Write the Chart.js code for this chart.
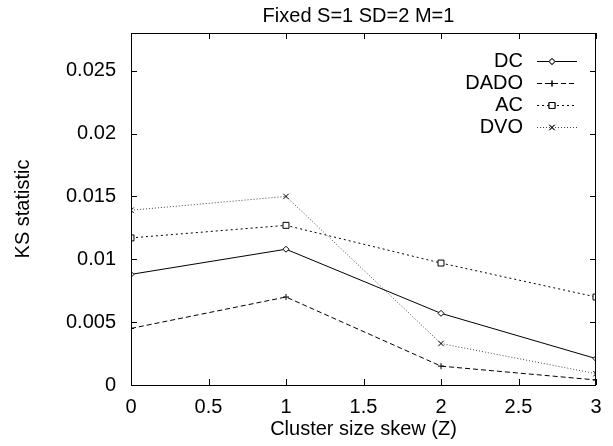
<!DOCTYPE html>
<html>
<head>
<meta charset="utf-8">
<script src="https://cdn.jsdelivr.net/npm/chart.js@4"></script>
<style>
  body { margin: 0; background: #fff; }
  #c { display: block; }
</style>
</head>
<body>
<canvas id="c" width="613" height="446"></canvas>
<script>
var xValues = [0, 1, 2, 3];
var dcValues = [0.0088, 0.0108, 0.0057, 0.0021];
var dadoValues = [0.0045, 0.0070, 0.0015, 0.0004];
var acValues = [0.0117, 0.0127, 0.0097, 0.0070];
var dvoValues = [0.0139, 0.0150, 0.0033, 0.0009];

var xTicks = [0, 0.5, 1, 1.5, 2, 2.5, 3];
var xTickLabels = ['0', '0.5', '1', '1.5', '2', '2.5', '3'];
var yTicks = [0, 0.005, 0.01, 0.015, 0.02, 0.025];
var yTickLabels = ['0', '0.005', '0.01', '0.015', '0.02', '0.025'];

var FONT = '"Liberation Sans", Arial, sans-serif';

function pts(vals) {
    return xValues.map(function (x, i) { return { x: x, y: vals[i] }; });
}

// frame, inward ticks, title and legend drawn like gnuplot does
var gnuplotLook = {
    id: 'gnuplotLook',
    afterDraw: function (chart) {
        var ctx = chart.ctx, a = chart.chartArea;
        var xs = chart.scales.x, ys = chart.scales.y;
        ctx.save();
        ctx.strokeStyle = '#000';
        ctx.lineWidth = 1;
        ctx.setLineDash([]);
        ctx.strokeRect(a.left + 0.5, a.top + 0.5, a.right - a.left - 1, a.bottom - a.top);
        ctx.beginPath();
        xTicks.forEach(function (v) {
            var px = Math.round(xs.getPixelForValue(v)) + 0.5;
            ctx.moveTo(px, a.bottom); ctx.lineTo(px, a.bottom - 6);
            ctx.moveTo(px, a.top); ctx.lineTo(px, a.top + 6);
        });
        yTicks.forEach(function (v) {
            var py = Math.round(ys.getPixelForValue(v)) + 0.5;
            ctx.moveTo(a.left, py); ctx.lineTo(a.left + 6, py);
            ctx.moveTo(a.right, py); ctx.lineTo(a.right - 6, py);
        });
        ctx.stroke();

        // title over the plot area
        ctx.fillStyle = '#000';
        ctx.font = '20px ' + FONT;
        ctx.textAlign = 'center';
        ctx.textBaseline = 'middle';
        ctx.fillText('Fixed S=1 SD=2 M=1', (a.left + a.right) / 2 - 5, 16);

        // legend
        ctx.textAlign = 'right';
        chart.data.datasets.forEach(function (ds, i) {
            var y = 61 + i * 22;
            ctx.fillStyle = '#000';
            ctx.fillText(ds.label, 523, y);
            ctx.strokeStyle = ds.borderColor;
            ctx.lineWidth = ds.borderWidth;
            ctx.setLineDash(ds.borderDash || []);
            ctx.beginPath();
            ctx.moveTo(537, y + 0.5); ctx.lineTo(577, y + 0.5);
            ctx.stroke();
            ctx.setLineDash([]);
            Chart.helpers.drawPoint(ctx, {
                pointStyle: ds.pointStyle, radius: ds.pointRadius, borderWidth: 1
            }, 552, y + 0.5);
            ctx.fillStyle = ds.pointBackgroundColor;
            ctx.strokeStyle = ds.pointBorderColor;
            ctx.lineWidth = 1;
            Chart.helpers.drawPoint(ctx, {
                pointStyle: ds.pointStyle, radius: ds.pointRadius, borderWidth: 1
            }, 552, y + 0.5);
        });
        ctx.restore();
    }
};

var ctx = document.getElementById('c').getContext('2d');
var chart = new Chart(ctx, {
    type: 'line',
    data: {
        datasets: [{
            label: 'DC',
            data: pts(dcValues),
            borderColor: '#000',
            borderWidth: 1,
            pointStyle: 'rectRot',
            pointRadius: 3,
            pointBackgroundColor: '#fff',
            pointBorderColor: '#000'
        },
        {
            label: 'DADO',
            data: pts(dadoValues),
            borderColor: '#000',
            borderWidth: 1,
            borderDash: [5, 3],
            pointStyle: 'cross',
            pointRadius: 3,
            pointBackgroundColor: '#fff',
            pointBorderColor: '#000'
        },
        {
            label: 'AC',
            data: pts(acValues),
            borderColor: '#000',
            borderWidth: 1,
            borderDash: [2, 3],
            pointStyle: 'rect',
            pointRadius: 4.2,
            pointBackgroundColor: '#fff',
            pointBorderColor: '#000'
        },
        {
            label: 'DVO',
            data: pts(dvoValues),
            borderColor: '#444',
            borderWidth: 1,
            borderDash: [1, 2],
            pointStyle: 'crossRot',
            pointRadius: 3.8,
            pointBackgroundColor: '#fff',
            pointBorderColor: '#000'
        }]
    },
    options: {
        responsive: false,
        animation: false,
        devicePixelRatio: 1,
        layout: { padding: { top: 33, right: 17, left: 0, bottom: 0 } },
        plugins: {
            legend: { display: false },
            tooltip: { enabled: false }
        },
        scales: {
            x: {
                type: 'linear',
                min: 0,
                max: 3,
                grid: { display: false, drawTicks: false },
                border: { display: false },
                afterBuildTicks: function (s) { s.ticks = xTicks.map(function (v) { return { value: v }; }); },
                afterFit: function (s) { s.height = 61; },
                ticks: {
                    padding: 10,
                    color: '#000',
                    font: { family: FONT, size: 20 },
                    maxRotation: 0,
                    callback: function (v) { return xTickLabels[xTicks.indexOf(v)]; }
                },
                title: {
                    display: true,
                    text: 'Cluster size skew (Z)',
                    color: '#000',
                    font: { family: FONT, size: 20 },
                    padding: { top: 0, bottom: 5 }
                }
            },
            y: {
                min: 0,
                max: 0.028,
                grid: { display: false, drawTicks: false },
                border: { display: false },
                afterBuildTicks: function (s) { s.ticks = yTicks.map(function (v) { return { value: v }; }); },
                afterFit: function (s) { s.width = 131; },
                ticks: {
                    padding: 15,
                    color: '#000',
                    font: { family: FONT, size: 20 },
                    callback: function (v) { return yTickLabels[yTicks.indexOf(v)]; }
                },
                title: {
                    display: true,
                    text: 'KS statistic',
                    color: '#000',
                    font: { family: FONT, size: 20 },
                    padding: { top: 11, bottom: 0 }
                }
            }
        }
    },
    plugins: [gnuplotLook]
});
</script>
</body>
</html>
